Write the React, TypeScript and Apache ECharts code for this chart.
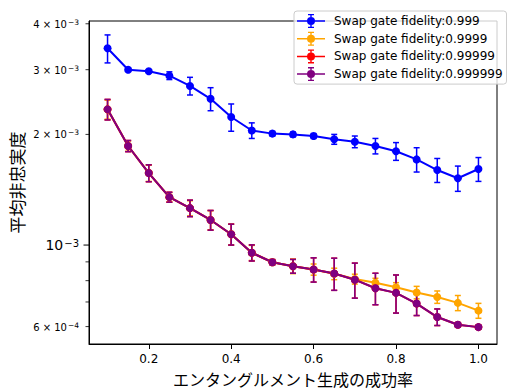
import React, { useEffect, useRef } from "react";
import * as echarts from "echarts";

const X_VALUES = [0.1, 0.15, 0.2, 0.25, 0.3, 0.35, 0.4, 0.45, 0.5, 0.55, 0.6, 0.65, 0.7, 0.75, 0.8, 0.85, 0.9, 0.95, 1.0];

const SERIES_NAMES = [
  "Swap gate fidelity:0.999",
  "Swap gate fidelity:0.9999",
  "Swap gate fidelity:0.99999",
  "Swap gate fidelity:0.999999",
];
const SERIES_COLORS = ["#0000ff", "#ffa500", "#ff0000", "#800080"];

const MEAN_0999 = [3.43e-3, 3.0e-3, 2.97e-3, 2.89e-3, 2.71e-3, 2.5e-3, 2.23e-3, 2.05e-3, 2.01e-3, 2.0e-3, 1.98e-3, 1.94e-3, 1.91e-3, 1.86e-3, 1.8e-3, 1.71e-3, 1.6e-3, 1.52e-3, 1.61e-3];
const ERR_0999 = [0.3e-3, 0.03e-3, 0.03e-3, 0.07e-3, 0.15e-3, 0.18e-3, 0.19e-3, 0.1e-3, 0.03e-3, 0.03e-3, 0.03e-3, 0.06e-3, 0.07e-3, 0.09e-3, 0.1e-3, 0.13e-3, 0.12e-3, 0.12e-3, 0.12e-3];

const MEAN_09999 = [2.34e-3, 1.86e-3, 1.57e-3, 1.35e-3, 1.26e-3, 1.17e-3, 1.07e-3, 0.953e-3, 0.898e-3, 0.876e-3, 0.858e-3, 0.835e-3, 0.808e-3, 0.79e-3, 0.768e-3, 0.743e-3, 0.722e-3, 0.696e-3, 0.663e-3];
const ERR_09999 = [0.14e-3, 0.06e-3, 0.08e-3, 0.04e-3, 0.06e-3, 0.07e-3, 0.07e-3, 0.045e-3, 0.01e-3, 0.04e-3, 0.03e-3, 0.03e-3, 0.025e-3, 0.022e-3, 0.022e-3, 0.029e-3, 0.028e-3, 0.033e-3, 0.031e-3];

const MEAN_099999 = [2.34e-3, 1.86e-3, 1.57e-3, 1.35e-3, 1.26e-3, 1.17e-3, 1.07e-3, 0.953e-3, 0.898e-3, 0.876e-3, 0.858e-3, 0.837e-3, 0.805e-3, 0.763e-3, 0.741e-3, 0.693e-3, 0.637e-3, 0.607e-3, 0.598e-3];
const ERR_099999 = [0.15e-3, 0.065e-3, 0.083e-3, 0.042e-3, 0.065e-3, 0.072e-3, 0.07e-3, 0.048e-3, 0.015e-3, 0.038e-3, 0.065e-3, 0.084e-3, 0.088e-3, 0.075e-3, 0.088e-3, 0.05e-3, 0.033e-3, 0.008e-3, 0.008e-3];

const MEAN_0999999 = [2.34e-3, 1.86e-3, 1.57e-3, 1.35e-3, 1.26e-3, 1.17e-3, 1.07e-3, 0.953e-3, 0.898e-3, 0.876e-3, 0.858e-3, 0.837e-3, 0.805e-3, 0.763e-3, 0.741e-3, 0.693e-3, 0.637e-3, 0.607e-3, 0.598e-3];
const ERR_0999999 = [0.15e-3, 0.065e-3, 0.083e-3, 0.042e-3, 0.065e-3, 0.072e-3, 0.07e-3, 0.048e-3, 0.015e-3, 0.038e-3, 0.065e-3, 0.084e-3, 0.088e-3, 0.075e-3, 0.088e-3, 0.05e-3, 0.033e-3, 0.008e-3, 0.008e-3];

const MEANS = [MEAN_0999, MEAN_09999, MEAN_099999, MEAN_0999999];
const ERRS = [ERR_0999, ERR_09999, ERR_099999, ERR_0999999];

const X_TICKS = [0.2, 0.4, 0.6, 0.8, 1.0];
const Y_MAJOR_TICKS = [1e-3];
const Y_MINOR_TICKS = [6e-4, 7e-4, 8e-4, 9e-4, 2e-3, 3e-3, 4e-3];
const Y_LABEL_VALUES = [6e-4, 1e-3, 2e-3, 3e-3, 4e-3];
const Y_LABEL_TEXTS = ["{m|6 × 10}{s|−4}", "{M|10}{S|−3}", "{m|2 × 10}{s|−3}", "{m|3 × 10}{s|−3}", "{m|4 × 10}{s|−3}"];

const X_MIN = 0.055;
const X_MAX = 1.045;
const Y_MIN = 5.38e-4;
const Y_MAX = 4.07e-3;

const FONT = "'DejaVu Sans', sans-serif";
const CJK = "'Noto Sans CJK JP', 'Noto Sans CJK SC', sans-serif";

const ICON =
  "path://M0,6.25H28V7.75H0Z M13.3,0H14.7V14H13.3Z M11,0H17V1.3H11Z M11,12.7H17V14H11Z M10,7A4,4 0 1 1 18,7A4,4 0 1 1 10,7Z";

const GRID = { left: 89, right: 10, top: 21, bottom: 44 };

export default function App() {
  const ref = useRef<HTMLDivElement>(null);

  useEffect(() => {
    if (!ref.current) return;
    const chart = echarts.init(ref.current, null, { renderer: "svg" });

    const series: any[] = [];
    SERIES_NAMES.forEach((name, i) => {
      const color = SERIES_COLORS[i];
      series.push({
        type: "custom",
        name: name + " (error)",
        coordinateSystem: "cartesian2d",
        silent: true,
        color: color,
        itemStyle: { color: color },
        encode: { x: 0, y: [1, 2] },
        data: X_VALUES.map((x, k) => [x, MEANS[i][k] - ERRS[i][k], MEANS[i][k] + ERRS[i][k]]),
        renderItem: (params: any, api: any) => {
          const x = api.value(0);
          const lo = api.coord([x, api.value(1)]);
          const hi = api.coord([x, api.value(2)]);
          const cw = 3;
          const style = { stroke: color, lineWidth: 1.5, fill: "none" };
          return {
            type: "group",
            children: [
              { type: "line", shape: { x1: lo[0], y1: lo[1], x2: hi[0], y2: hi[1] }, style },
              { type: "line", shape: { x1: lo[0] - cw, y1: lo[1], x2: lo[0] + cw, y2: lo[1] }, style },
              { type: "line", shape: { x1: hi[0] - cw, y1: hi[1], x2: hi[0] + cw, y2: hi[1] }, style },
            ],
          };
        },
      });
      series.push({
        type: "line",
        name: name,
        data: X_VALUES.map((x, k) => [x, MEANS[i][k]]),
        symbol: "circle",
        symbolSize: 8,
        showSymbol: true,
        color: color,
        itemStyle: { color: color },
        lineStyle: { color: color, width: 2 },
        emphasis: { disabled: true },
      });
    });

    chart.setOption({
      animation: false,
      backgroundColor: "#ffffff",
      color: SERIES_COLORS,
      grid: { ...GRID, show: true, borderColor: "#000000", borderWidth: 1, backgroundColor: "transparent" },
      legend: {
        data: SERIES_NAMES.map((n, i) => ({ name: n, itemStyle: { color: SERIES_COLORS[i] } })),
        orient: "vertical",
        left: 294,
        top: 11,
        itemWidth: 28,
        itemHeight: 14,
        itemGap: 3.7,
        padding: [3, 4, 3, 3],
        icon: ICON,
        borderColor: "#cccccc",
        borderWidth: 1,
        borderRadius: 3,
        backgroundColor: "rgba(255,255,255,0.8)",
        textStyle: { fontSize: 12, fontFamily: FONT, color: "#000000", padding: [0, 0, 0, 4] },
        selectedMode: false,
      },
      xAxis: {
        type: "value",
        min: X_MIN,
        max: X_MAX,
        name: "エンタングルメント生成の成功率",
        nameLocation: "middle",
        nameGap: 27,
        nameTextStyle: { fontSize: 16, fontFamily: CJK, color: "#000000" },
        axisLine: { show: true, onZero: false, lineStyle: { color: "#000000", width: 1 } },
        axisTick: { show: true, inside: false, length: 5, customValues: X_TICKS, lineStyle: { color: "#000000" } },
        axisLabel: {
          show: true,
          margin: 9,
          customValues: X_TICKS,
          fontSize: 12,
          fontFamily: FONT,
          color: "#000000",
          formatter: (v: number) => v.toFixed(1),
        },
        splitLine: { show: false },
      },
      yAxis: {
        type: "log",
        min: Y_MIN,
        max: Y_MAX,
        name: "平均非忠実度",
        nameLocation: "middle",
        nameGap: 64,
        nameRotate: 90,
        nameTextStyle: { fontSize: 17, fontFamily: CJK, color: "#000000" },
        axisLine: { show: true, lineStyle: { color: "#000000", width: 1 } },
        axisTick: { show: false },
        axisLabel: { show: false },
        splitLine: { show: false },
        minorTick: { show: false },
      },
      series,
    });

    const gl = GRID.left;
    const elements: any[] = [];
    const toY = (v: number) => chart.convertToPixel({ yAxisIndex: 0 } as any, v) as unknown as number;
    Y_MINOR_TICKS.forEach((v) => {
      const y = toY(v);
      elements.push({ type: "line", shape: { x1: gl - 3.5, y1: y, x2: gl, y2: y }, style: { stroke: "#000000", lineWidth: 0.8 }, silent: true });
    });
    Y_MAJOR_TICKS.forEach((v) => {
      const y = toY(v);
      elements.push({ type: "line", shape: { x1: gl - 5.5, y1: y, x2: gl, y2: y }, style: { stroke: "#000000", lineWidth: 1 }, silent: true });
    });
    Y_LABEL_VALUES.forEach((v, i) => {
      const y = toY(v);
      elements.push({
        type: "text",
        x: gl - 10,
        y: y,
        silent: true,
        style: {
          text: Y_LABEL_TEXTS[i],
          align: "right",
          verticalAlign: "middle",
          fill: "#000000",
          fontFamily: FONT,
          rich: {
            m: { fontSize: 10, fontFamily: FONT, lineHeight: 11, verticalAlign: "bottom", fill: "#000000" },
            s: { fontSize: 7.5, fontFamily: FONT, lineHeight: 8, verticalAlign: "top", padding: [0, 0, 6, 1], fill: "#000000" },
            M: { fontSize: 14, fontFamily: FONT, lineHeight: 14, verticalAlign: "bottom", fill: "#000000" },
            S: { fontSize: 10, fontFamily: FONT, lineHeight: 10, verticalAlign: "top", padding: [0, 0, 5, 1], fill: "#000000" },
          },
        },
      });
    });
    chart.setOption({ graphic: { elements } });

    return () => {
      chart.dispose();
    };
  }, []);

  return <div ref={ref} style={{ position: "fixed", left: 0, top: 0, width: 507, height: 392 }} />;
}
